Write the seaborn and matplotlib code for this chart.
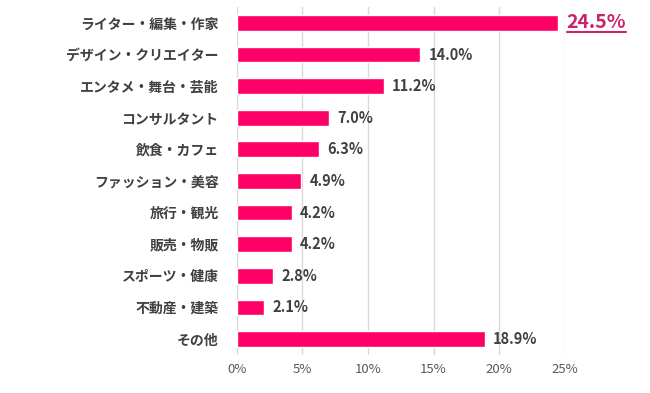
import matplotlib
matplotlib.use("Agg")
import matplotlib.pyplot as plt
import seaborn as sns
import pandas as pd
from matplotlib.lines import Line2D

categories = ["ライター・編集・作家", "デザイン・クリエイター", "エンタメ・舞台・芸能", "コンサルタント",
              "飲食・カフェ", "ファッション・美容", "旅行・観光", "販売・物販",
              "スポーツ・健康", "不動産・建築", "その他"]
values = [24.5, 14.0, 11.2, 7.0, 6.3, 4.9, 4.2, 4.2, 2.8, 2.1, 18.9]
x_ticks = [0, 5, 10, 15, 20, 25]

sns.set_style("white")
plt.rcParams['font.family'] = ['Noto Sans CJK JP', 'DejaVu Sans']

df = pd.DataFrame({"category": categories, "value": values})

fig = plt.figure(figsize=(6.5, 3.93), dpi=100)
ax = fig.add_axes([0.364, 0.097, 0.505, 0.885])

sns.barplot(data=df, x="value", y="category", color="#FF0066", saturation=1,
            width=0.5, ax=ax, orient="h")

ax.set_xlim(0, 25)
ax.set_xticks(x_ticks)
ax.set_xticklabels([f"{t}%" for t in x_ticks], fontsize=9.5, color="#595959")
ax.tick_params(axis="y", labelsize=10, colors="#404040", length=0, pad=13)
ax.tick_params(axis="x", length=0, pad=6)
for lbl in ax.get_yticklabels():
    lbl.set_fontweight("bold")
ax.set_xlabel("")
ax.set_ylabel("")
ax.grid(axis="x", color="#d9d9d9", linewidth=1)
ax.set_axisbelow(True)
for s in ax.spines.values():
    s.set_visible(False)

# value labels (first one drawn separately)
labels = ["" if i == 0 else f"{v:.1f}%" for i, v in enumerate(values)]
ax.bar_label(ax.containers[0], labels=labels, padding=6, fontsize=10.5,
             color="#404040", fontweight="bold")

# highlighted top value, underlined
top = ax.annotate(f"{values[0]:.1f}%", xy=(values[0], 0), xytext=(6, 0),
                  textcoords="offset points", va="center", ha="left",
                  fontsize=14, fontweight="bold", color="#C8246E",
                  annotation_clip=False)

fig.canvas.draw()
bb = top.get_window_extent().transformed(fig.transFigure.inverted())
fig.add_artist(Line2D([bb.x0, bb.x1], [bb.y0, bb.y0],
                      transform=fig.transFigure, color="#C8246E", linewidth=1.5))

fig.savefig("out.png", dpi=100)
